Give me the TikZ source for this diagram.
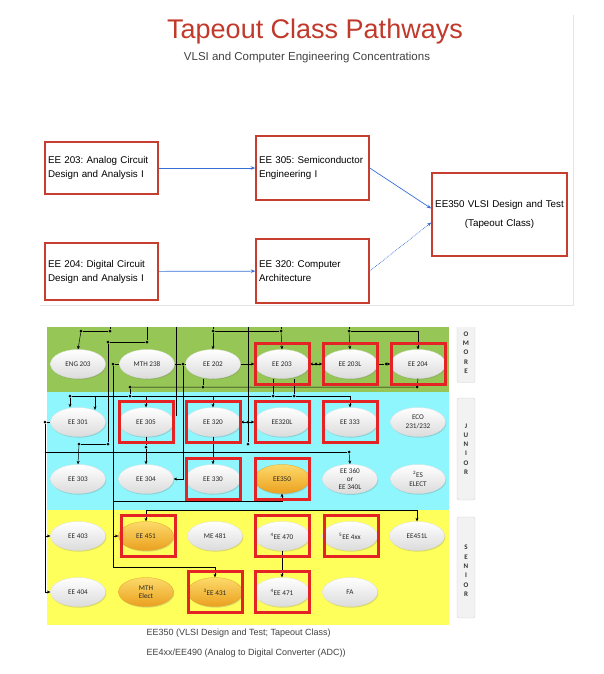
\documentclass[tikz,border=0pt]{standalone}
\usepackage{fontspec}
\setmainfont{Liberation Sans}
\newfontfamily\calib{Carlito}
\usetikzlibrary{shapes.geometric, arrows.meta, shadows}
\frenchspacing

\definecolor{titlered}{RGB}{192,57,43}
\definecolor{boxred}{RGB}{200,62,46}
\definecolor{arrowblue}{RGB}{55,110,215}
\definecolor{sophgrn}{RGB}{150,199,86}
\definecolor{juncyan}{RGB}{142,246,252}
\definecolor{senyel}{RGB}{255,255,92}
\definecolor{hlred}{RGB}{228,36,36}
\definecolor{goldtop}{RGB}{253,218,105}
\definecolor{goldbot}{RGB}{234,160,32}

\begin{document}
\begin{tikzpicture}[x=1pt, y=-1pt,
  topbox/.style={draw=boxred, line width=1.5pt, inner sep=3pt, text width=107pt, align=left,
    font=\fontsize{9.8}{14}\selectfont},
  pipe/.style={draw=arrowblue, line width=0.7pt, -{Stealth[length=4.5pt, width=3.5pt]}},
  band/.style={rectangle, inner sep=0pt, minimum width=402pt},
  course/.style={ellipse, draw=gray!25, line width=0.3pt, inner sep=0pt, minimum width=55pt, minimum height=29pt,
    top color=white, middle color=white, bottom color=gray!28, align=center, text=black!85,
    font=\calib\fontsize{7.2}{8.5}\selectfont,
    drop shadow={opacity=0.3, shadow xshift=0.8pt, shadow yshift=-1.2pt}},
  gold/.style={course, top color=goldtop, middle color=goldtop!80!goldbot, bottom color=goldbot, draw=goldbot},
  hlbox/.style={rectangle, draw=hlred, line width=3pt, inner sep=0pt, minimum width=54pt, minimum height=41pt},
  dot/.style={circle, fill=black, inner sep=0pt, minimum size=3pt},
  wire/.style={draw, line width=0.5pt},
  flow/.style={wire, -{Stealth[length=3.5pt, width=3pt]}},
  dflow/.style={wire, {Stealth[length=3.5pt, width=3pt]}-{Stealth[length=3.5pt, width=3pt]}},
  tag/.style={rectangle, rounded corners=2pt, draw=gray!35, fill=gray!10, minimum width=18pt, inner sep=0pt,
    align=center, text=black!80, font=\calib\bfseries\fontsize{7}{9.3}\selectfont}]
  \useasboundingbox (0,0) rectangle (604,674);

  % header
  \node[font=\fontsize{27}{32}\selectfont, text=titlered] (title) at (315,32) {Tapeout Class Pathways};
  \node[font=\fontsize{11.5}{14}\selectfont, text=black!75] (subtitle) at (307,58) {VLSI and Computer Engineering Concentrations};
  \draw[gray!20, line width=0.8pt] (40,305) -- (573,305) -- (573,15);

  % tapeout pathway
  \node[topbox, minimum height=52pt] (t203) at (101.5,168) {EE 203: Analog Circuit\\Design and Analysis I};
  \node[topbox, minimum height=57pt] (t204) at (101.5,271.5) {EE 204: Digital Circuit\\Design and Analysis I};
  \node[topbox, minimum height=64pt] (t305) at (312.5,168) {EE 305: Semiconductor\\Engineering I\\[4pt]};
  \node[topbox, minimum height=64pt] (t320) at (312.5,271) {EE 320: Computer\\Architecture\\[4pt]};
  \node[topbox, minimum height=83pt, text width=129pt, align=center, font=\fontsize{9.8}{19}\selectfont] (t350) at (499.5,214.5)
    {EE350 VLSI Design and Test\\(Tapeout Class)};
  \draw[pipe] (t203) -- (t305);
  \draw[pipe] (t204) -- (t320);
  \draw[pipe] (t305.east) -- ([yshift=6pt]t350.west);
  \draw[pipe, densely dotted] (t320.east) -- ([yshift=-8pt]t350.west);

  % class chart
  \node[band, fill=sophgrn, minimum height=65pt] (soph) at (248,359.5) {};
  \node[band, fill=juncyan, minimum height=118pt] (jun) at (248,451) {};
  \node[band, fill=senyel, minimum height=115pt] (sen) at (248,567.5) {};

  \begin{scope}
    \clip (440,327) rectangle (490,400);
    \node[tag, minimum height=97pt] (tsoph) at (466,334) {S\\O\\P\\H\\O\\M\\O\\R\\E};
  \end{scope}
  \node[tag, minimum height=102pt] (tjun) at (466,449) {J\\U\\N\\I\\O\\R};
  \node[tag, minimum height=101pt] (tsen) at (466,567.5) {\\[2pt]S\\E\\N\\I\\O\\R};

  \node[course] (eng) at (78,364) {ENG 203};
  \node[course] (mth) at (147,364) {MTH 238};
  \node[course] (ee202) at (213,364) {EE 202};
  \node[course] (ee203) at (282,364) {EE 203};
  \node[course] (ee203L) at (350,364) {EE 203L};
  \node[course] (ee204) at (418,364) {EE 204};

  \node[course] (ee301) at (78,422) {EE 301};
  \node[course] (ee305) at (146,422) {EE 305};
  \node[course] (ee320) at (213,422) {EE 320};
  \node[course] (ee320L) at (282,422) {EE320L};
  \node[course] (ee333) at (350,422) {EE 333};
  \node[course] (eco) at (418,422) {ECO\\231/232};

  \node[course] (ee303) at (78,479) {EE 303};
  \node[course] (ee304) at (146,479) {EE 304};
  \node[course] (ee330) at (213,479) {EE 330};
  \node[gold] (ee350) at (282,479) {EE350};
  \node[course, font=\calib\fontsize{7.2}{8}\selectfont] (ee360) at (350,479) {EE 360\\or\\EE 340L};
  \node[course] (eselect) at (418,479) {\textsuperscript{2}ES\\ELECT};

  \node[course] (ee403) at (78,536) {EE 403};
  \node[gold] (ee451) at (146,536) {EE 451};
  \node[course] (me481) at (215,536) {ME 481};
  \node[course] (ee470) at (282,536) {\textsuperscript{4}EE 470};
  \node[course] (ee4xx) at (350,536) {\textsuperscript{5}EE 4xx};
  \node[course] (ee451L) at (417,536) {EE451L};

  \node[course] (ee404) at (78,592) {EE 404};
  \node[gold] (mthel) at (146,592) {MTH\\Elect};
  \node[gold] (ee431) at (215,592) {\textsuperscript{3}EE 431};
  \node[course] (ee471) at (282,592) {\textsuperscript{4}EE 471};
  \node[course] (fa) at (350,592) {FA};

  % junctions
  \node[dot] (j1) at (81,331) {};
  \node[dot] (j2) at (110,331) {};
  \node[dot] (j3) at (108,342) {};
  \node[dot] (j4) at (147,342) {};
  \node[dot] (j5) at (108,444) {};
  \node[dot] (j6) at (79,444) {};
  \node[dot] (j7) at (213,331) {};
  \node[dot] (j8) at (281,331) {};
  \node[dot] (j9) at (349,331) {};
  \node[dot] (j10) at (113,364) {};
  \node[dot] (j11) at (183,364) {};
  \node[dot] (j12) at (316,364) {};
  \node[dot] (j13) at (386,364) {};
  \node[dot] (j14) at (203,387) {};
  \node[dot] (j15) at (130,387) {};
  \node[dot] (j16) at (417,387) {};
  \node[dot] (j17) at (130,396) {};
  \node[dot] (j18) at (70,396) {};
  \node[dot] (j19) at (273,396) {};
  \node[dot] (j20) at (294,396) {};
  \node[dot] (j21) at (45,422) {};
  \node[dot] (j22) at (349,452) {};
  \node[dot] (j23) at (248,422) {};
  \node[dot] (j24) at (248,444) {};
  \node[dot] (j25) at (146,447) {};
  \coordinate (v1) at (176,416);
  \coordinate (v2) at (350,396);
  \coordinate (v3) at (95,396);
  \coordinate (v4) at (146,510);
  \coordinate (k1) at (113,567);

  % prerequisite lines
  \draw[wire] (j2 |- soph.north) -- (j2) -- (j1);
  \draw[flow] (j1) -- (eng.north);
  \draw[wire] (j4 |- soph.north) -- (j4) -- (j3) -- (j5) -- (j6);
  \draw[flow] (j6) -- (ee303.north);
  \draw[wire] (j7 |- soph.north) -- (j7) -- (j8) -- (j8 |- soph.north);
  \draw[flow] (j7) -- (ee202.north);
  \draw[flow] (j8) -- (ee203.north);
  \draw[wire] (j9 |- soph.north) -- (j9);
  \draw[flow] (j9) -- (ee203L.north);
  \draw[flow] (j9) -| (ee204.north);
  \draw[wire] (v1 |- soph.north) -- (v1);
  \draw[wire] (j10) -- (mth.west);
  \draw[flow] (j10) -- (k1) -| (ee431.north);
  \draw[flow] (j10 |- ee451.west) -- (ee451.west);
  \draw[flow] (j10 |- 0,501) -| (ee350.south);
  \draw[wire] (mth.east) -- (j11) -- (ee202.west);
  \draw[flow] (j11) |- (ee304.east);
  \draw[flow] (ee202.east) -- (ee203.west);
  \draw[dflow] (ee203.east) -- (ee203L.west);
  \draw[wire] (ee203L.east) -- (j13);
  \draw[flow] (j13) -- (ee204.west);
  \draw[wire] (j14 |- ee202.south) -- (j14);
  \draw[wire] (j15) -- (j14) -- (j16) -- (ee204.south);
  \draw[wire] (j15) -- (j17);
  \draw[wire] (j18) -- (j17) -- (j19) -- (j20) -- (v2);
  \draw[wire] (j19) -- (j19 |- ee203.south);
  \draw[wire] (j20) -- (j20 |- ee203.south);
  \draw[flow] (j18) -- (j18 |- ee301.north);
  \draw[flow, shorten >=-2.5pt] (v3) -- (v3 |- ee301.north);
  \draw[flow] (ee305.north |- j17) -- (ee305.north);
  \draw[flow] (ee320.north |- j17) -- (ee320.north);
  \draw[flow] (v2) -- (ee333.north);
  \draw[wire] (j21) -- (ee301.west);
  \draw[flow] (j21) |- (ee403.west);
  \draw[flow] (j21) |- (ee404.west);
  \draw[wire] (j21 |- j22) -- (j22);
  \draw[flow] (j22) -- (ee360.north);
  \draw[dflow] (ee320.east) -- (ee320L.west);
  \draw[wire] (j23 |- soph.north) -- (j24);
  \draw[wire] (ee305.south) -- (j25);
  \draw[flow] (j25) -- (ee304.north);
  \draw[flow] (ee320.south) -- (ee330.north);
  \draw[flow] (v4) -- (ee451.north);
  \draw[flow] (v4) -| (ee451L.north);
  \draw[flow] (ee470.south) -- (ee471.north);

  % tapeout classes
  \node[hlbox] (b203) at (ee203) {};
  \node[hlbox] (b203L) at (ee203L) {};
  \node[hlbox] (b204) at (ee204) {};
  \node[hlbox] (b305) at (ee305) {};
  \node[hlbox] (b320) at (ee320) {};
  \node[hlbox] (b320L) at (ee320L) {};
  \node[hlbox] (b333) at (ee333) {};
  \node[hlbox] (b330) at (ee330) {};
  \node[hlbox] (b350) at (ee350) {};
  \node[hlbox] (b451) at (148,536) {};
  \node[hlbox] (b470) at (ee470) {};
  \node[hlbox] (b4xx) at (351,536) {};
  \node[hlbox] (b431) at (ee431) {};
  \node[hlbox] (b471) at (ee471) {};

  \node[anchor=west, font=\fontsize{9}{11}\selectfont, text=black!75] (note1) at (143,633) {EE350 (VLSI Design and Test; Tapeout Class)};
  \node[anchor=west, font=\fontsize{9}{11}\selectfont, text=black!75] (note2) at (143,653) {EE4xx/EE490 (Analog to Digital Converter (ADC))};
\end{tikzpicture}
\end{document}
